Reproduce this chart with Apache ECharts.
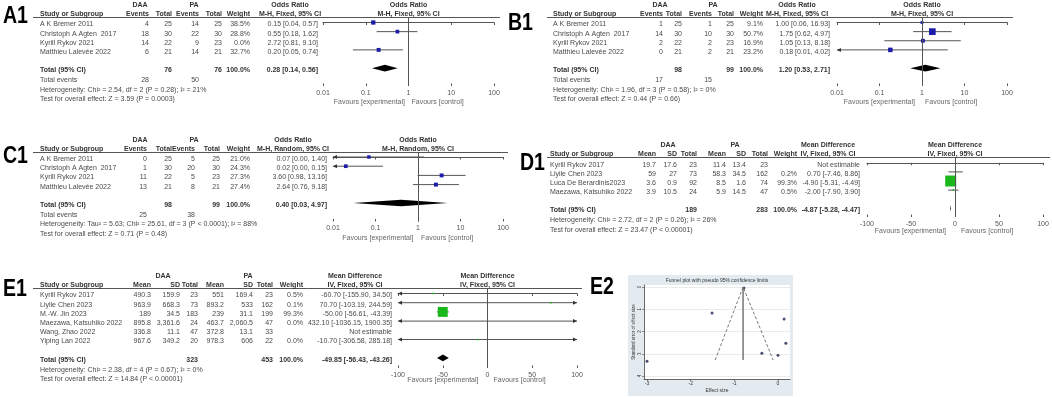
<!DOCTYPE html>
<html>
<head>
<meta charset="utf-8">
<script src="https://cdn.jsdelivr.net/npm/echarts@6/dist/echarts.min.js"></script>
<style>
  html, body { margin: 0; padding: 0; background: #fff; }
  #main { width: 1052px; height: 397px; }
</style>
</head>
<body>
<div id="main"></div>
<script>
// ---------- A1: odds ratio, M-H fixed ----------
const aStudies = ['A K Bremer 2011', 'Christoph A Agten  2017', 'Kyrill Rykov 2021', 'Matthieu Lalevée 2022'];
const aDaaEvents = [4, 18, 14, 6];
const aDaaTotal = [25, 30, 22, 21];
const aPaEvents = [14, 22, 9, 14];
const aPaTotal = [25, 30, 23, 21];
const aWeight = [38.5, 28.8, 0.0, 32.7];
const aOR = [0.15, 0.55, 2.72, 0.20];
const aLower = [0.04, 0.18, 0.81, 0.05];
const aUpper = [0.57, 1.62, 9.10, 0.74];
const aDrawn = [true, true, false, true];
const aTotal = [76, 76];
const aTotalEvents = [28, 50];
const aPooled = [0.28, 0.14, 0.56];
const aNotes = ['Heterogeneity: Chi² = 2.54, df = 2 (P = 0.28); I² = 21%', 'Test for overall effect: Z = 3.59 (P = 0.0003)'];

// ---------- B1 ----------
const bStudies = ['A K Bremer 2011', 'Christoph A Agten  2017', 'Kyrill Rykov 2021', 'Matthieu Lalevée 2022'];
const bDaaEvents = [1, 14, 2, 0];
const bDaaTotal = [25, 30, 22, 21];
const bPaEvents = [1, 10, 2, 2];
const bPaTotal = [25, 30, 23, 21];
const bWeight = [9.1, 50.7, 16.9, 23.2];
const bOR = [1.00, 1.75, 1.05, 0.18];
const bLower = [0.06, 0.62, 0.13, 0.01];
const bUpper = [16.93, 4.97, 8.18, 4.02];
const bTotal = [98, 99];
const bTotalEvents = [17, 15];
const bPooled = [1.20, 0.53, 2.71];
const bNotes = ['Heterogeneity: Chi² = 1.96, df = 3 (P = 0.58); I² = 0%', 'Test for overall effect: Z = 0.44 (P = 0.66)'];

// ---------- C1: odds ratio, M-H random ----------
const cStudies = ['A K Bremer 2011', 'Christoph A Agten  2017', 'Kyrill Rykov 2021', 'Matthieu Lalevée 2022'];
const cDaaEvents = [0, 1, 11, 13];
const cDaaTotal = [25, 30, 22, 21];
const cPaEvents = [5, 20, 5, 8];
const cPaTotal = [25, 30, 23, 21];
const cWeight = [21.0, 24.3, 27.3, 27.4];
const cOR = [0.07, 0.02, 3.60, 2.64];
const cLower = [0.00, 0.00, 0.98, 0.76];
const cUpper = [1.40, 0.15, 13.16, 9.18];
const cTotal = [98, 99];
const cTotalEvents = [25, 38];
const cPooled = [0.40, 0.03, 4.97];
const cNotes = ['Heterogeneity: Tau² = 5.63; Chi² = 25.61, df = 3 (P < 0.0001); I² = 88%', 'Test for overall effect: Z = 0.71 (P = 0.48)'];

// ---------- D1: mean difference ----------
const dStudies = ['Kyrill Rykov 2017', 'Liyile Chen 2023', 'Luca De Berardinis2023', 'Maezawa, Katsuhiko 2022'];
const dDaaMean = [19.7, 59, 3.6, 3.9];
const dDaaSd = [17.6, 27, 0.9, 10.5];
const dDaaTotal = [23, 73, 92, 24];
const dPaMean = [11.4, 58.3, 8.5, 5.9];
const dPaSd = [13.4, 34.5, 1.6, 14.5];
const dPaTotal = [23, 162, 74, 47];
const dWeight = [null, 0.2, 99.3, 0.5];
const dMD = [null, 0.70, -4.90, -2.00];
const dLower = [null, -7.46, -5.31, -7.90];
const dUpper = [null, 8.86, -4.49, 3.90];
const dTotal = [189, 283];
const dPooled = [-4.87, -5.28, -4.47];
const dNotes = ['Heterogeneity: Chi² = 2.72, df = 2 (P = 0.26); I² = 26%', 'Test for overall effect: Z = 23.47 (P < 0.00001)'];

// ---------- E1: mean difference ----------
const eStudies = ['Kyrill Rykov 2017', 'Liyile Chen 2023', 'M.-W. Jin 2023', 'Maezawa, Katsuhiko 2022', 'Wang, Zhao 2022', 'Yiping Lan 2022'];
const eDaaMean = [490.3, 963.9, 189, 895.8, 336.8, 967.6];
const eDaaSd = [159.9, 668.3, 34.5, 3361.6, 11.1, 349.2];
const eDaaTotal = [23, 73, 183, 24, 47, 20];
const ePaMean = [551, 893.2, 239, 463.7, 372.8, 978.3];
const ePaSd = [169.4, 533, 31.1, 2060.5, 13.1, 606];
const ePaTotal = [23, 162, 199, 47, 33, 22];
const eWeight = [0.5, 0.1, 99.3, 0.0, null, 0.0];
const eMD = [-60.70, 70.70, -50.00, 432.10, null, -10.70];
const eLower = [-155.90, -103.19, -56.61, -1036.15, null, -306.58];
const eUpper = [34.50, 244.59, -43.39, 1900.35, null, 285.18];
const eTotal = [323, 453];
const ePooled = [-49.85, -56.43, -43.26];
const eNotes = ['Heterogeneity: Chi² = 2.38, df = 4 (P = 0.67); I² = 0%', 'Test for overall effect: Z = 14.84 (P < 0.00001)'];

// ---------- E2: funnel plot ----------
const funnelEffect = [-0.78, -1.51, 0.14, 0.18, -0.37, 0.00, -3.00];
const funnelSE = [0.05, 1.17, 1.44, 2.52, 2.97, 3.06, 3.33];
const funnelEdgeX = [-1.44, -0.80, -0.11];
const funnelEdgeY = [3.28, 0, 3.28];
const funnelCentre = -0.80;
const funnelTicksX = [-3, -2, -1, 0];
const funnelTicksY = [0, 1, 2, 3, 4];

const FONT = '"Liberation Sans", Arial, sans-serif';
const GREY = '#4a4a4a';
const BLUE = '#1c1ca8';
const GREEN = '#1ab81a';

const orCols = ['Events', 'Total', 'Events', 'Total'];
const mdCols = ['Mean', 'SD', 'Total', 'Mean', 'SD', 'Total'];

const panels = [
  {
    tag: 'A1', tagPos: [3, 16.5], log: true, range: [0.01, 100], ref: 1,
    studies: aStudies, cols: [aDaaEvents, aDaaTotal, aPaEvents, aPaTotal], colNames: orCols, totalCols: [1, 3],
    weight: aWeight, est: aOR, lo: aLower, hi: aUpper, drawn: aDrawn,
    totals: aTotal, events: aTotalEvents, pooled: aPooled, notes: aNotes,
    effect: 'Odds Ratio', method: 'M-H, Fixed, 95% CI', color: BLUE,
    L: { line: [33, 500], top: 17, plotX: 323, plotW: 171, axisY: 86, row0: 22.5, rowH: 9.13, totalRow: 5,
         studyX: 40, colX: [149, 172, 199, 222], weightX: 250, ciX: 318, daaX: 140, paX: 194, effX: 290,
         favY: 102, favGap: [3.5, 3], box: [0.69, 2.5] }
  },
  {
    tag: 'B1', tagPos: [508, 23.5], log: true, range: [0.01, 100], ref: 1,
    studies: bStudies, cols: [bDaaEvents, bDaaTotal, bPaEvents, bPaTotal], colNames: orCols, totalCols: [1, 3],
    weight: bWeight, est: bOR, lo: bLower, hi: bUpper,
    totals: bTotal, events: bTotalEvents, pooled: bPooled, notes: bNotes,
    effect: 'Odds Ratio', method: 'M-H, Fixed, 95% CI', color: BLUE,
    L: { line: [547, 1013], top: 17, plotX: 837, plotW: 170, axisY: 86, row0: 22.5, rowH: 9.13, totalRow: 5,
         studyX: 553, colX: [663, 682, 712, 734], weightX: 763, ciX: 830, daaX: 660, paX: 713, effX: 797,
         favY: 102, favGap: [7, 3], box: [0.94, 2.5] }
  },
  {
    tag: 'C1', tagPos: [3, 157], log: true, range: [0.01, 100], ref: 1,
    studies: cStudies, cols: [cDaaEvents, cDaaTotal, cPaEvents, cPaTotal], colNames: orCols, totalCols: [1, 3],
    weight: cWeight, est: cOR, lo: cLower, hi: cUpper,
    totals: cTotal, events: cTotalEvents, pooled: cPooled, notes: cNotes,
    effect: 'Odds Ratio', method: 'M-H, Random, 95% CI', color: BLUE,
    L: { line: [33, 508], top: 152, plotX: 333, plotW: 170, axisY: 221.5, row0: 157, rowH: 9.2, totalRow: 5,
         studyX: 40, colX: [147, 172, 195, 220], weightX: 250, ciX: 327, daaX: 140, paX: 194, effX: 293,
         favY: 238, favGap: [4.5, 3], box: [0.75, 2.5] }
  },
  {
    tag: 'D1', tagPos: [520, 163.5], log: false, range: [-100, 100], ref: 0,
    studies: dStudies, cols: [dDaaMean, dDaaSd, dDaaTotal, dPaMean, dPaSd, dPaTotal], colNames: mdCols, totalCols: [2, 5],
    weight: dWeight, est: dMD, lo: dLower, hi: dUpper,
    totals: dTotal, events: null, pooled: dPooled, notes: dNotes,
    effect: 'Mean Difference', method: 'IV, Fixed, 95% CI', color: GREEN,
    L: { line: [547, 1050], top: 157, plotX: 867, plotW: 176, axisY: 217, row0: 162.8, rowH: 9.1, totalRow: 5,
         studyX: 550, colX: [656, 677, 697, 726, 746, 768], weightX: 797, ciX: 860, daaX: 668, paX: 735, effX: 828,
         favY: 231, favGap: [9, 6], box: [1.1, 1.5] }
  },
  {
    tag: 'E1', tagPos: [3, 289.5], log: false, range: [-100, 100], ref: 0,
    studies: eStudies, cols: [eDaaMean, eDaaSd, eDaaTotal, ePaMean, ePaSd, ePaTotal], colNames: mdCols, totalCols: [2, 5],
    weight: eWeight, est: eMD, lo: eLower, hi: eUpper,
    totals: eTotal, events: null, pooled: ePooled, notes: eNotes,
    effect: 'Mean Difference', method: 'IV, Fixed, 95% CI', color: GREEN,
    L: { line: [33, 582], top: 288, plotX: 398, plotW: 179, axisY: 368, row0: 293.5, rowH: 9.2, totalRow: 7,
         studyX: 40, colX: [151, 180, 198, 224, 253, 273], weightX: 303, ciX: 392, daaX: 163, paX: 248, effX: 355,
         favY: 380, favGap: [9, 6], box: [1.0, 1.5] }
  }
];

function fmtNum(v) {
  return v.toLocaleString('en-US', { maximumFractionDigits: 2 });
}
function fmtCI(e, l, u) {
  return e == null ? 'Not estimable' : e.toFixed(2) + ' [' + l.toFixed(2) + ', ' + u.toFixed(2) + ']';
}

function studyItem(p) {
  return function (params, api) {
    const i = api.value(0), est = api.value(1), lo = api.value(2), hi = api.value(3), w = api.value(4);
    const mn = p.range[0], mx = p.range[1];
    const y = api.coord([p.ref, i])[1];
    const x0 = api.coord([Math.max(lo, mn), i])[0];
    const x1 = api.coord([Math.min(hi, mx), i])[0];
    const kids = [{ type: 'line', shape: { x1: x0, y1: y, x2: x1, y2: y }, style: { stroke: '#555', lineWidth: 1 } }];
    if (lo <= mn) kids.push({ type: 'polygon', shape: { points: [[x0, y], [x0 + 4, y - 2], [x0 + 4, y + 2]] }, style: { fill: '#333' } });
    if (hi >= mx) kids.push({ type: 'polygon', shape: { points: [[x1, y], [x1 - 4, y - 2], [x1 - 4, y + 2]] }, style: { fill: '#333' } });
    if (est > mn && est < mx) {
      const s = Math.max(p.L.box[1], p.L.box[0] * Math.sqrt(w));
      const c = api.coord([est, i]);
      kids.push({ type: 'rect', shape: { x: c[0] - s / 2, y: c[1] - s / 2, width: s, height: s }, style: { fill: p.color } });
    }
    return { type: 'group', children: kids };
  };
}

function diamondItem(p) {
  return function (params, api) {
    const r = api.value(0);
    const c = api.coord([api.value(1), r]);
    const l = api.coord([api.value(2), r]);
    const u = api.coord([api.value(3), r]);
    const h = 3.3;
    return {
      type: 'polygon',
      shape: { points: [[l[0], c[1]], [c[0], c[1] - h], [u[0], c[1]], [c[0], c[1] + h]] },
      style: { fill: '#000' }
    };
  };
}

const chart = echarts.init(document.getElementById('main'));
const option = { animation: false, grid: [], xAxis: [], yAxis: [], series: [] };

panels.forEach(function (p, k) {
  const L = p.L;
  const h = L.axisY - L.top;
  const yMin = -(L.row0 - L.top) / L.rowH;
  option.grid.push({ left: L.plotX, top: L.top, width: L.plotW, height: h });
  const base = { gridIndex: k, position: 'bottom', type: p.log ? 'log' : 'value', min: p.range[0], max: p.range[1], splitLine: { show: false } };
  if (p.log) base.logBase = 10; else base.interval = 50;
  option.xAxis.push(Object.assign({}, base, {
    axisLine: { lineStyle: { color: '#555', width: 1 } },
    axisTick: { length: 2.5, lineStyle: { color: '#555' } },
    axisLabel: { fontSize: 7, fontFamily: FONT, color: '#555', margin: 3.5, formatter: function (v) { return String(+(+v).toPrecision(3)); } }
  }));
  option.xAxis.push(Object.assign({}, base, {
    axisLine: { show: false },
    axisTick: { inside: true, length: 2.5, lineStyle: { color: '#555' } },
    axisLabel: { show: false }
  }));
  option.yAxis.push({ gridIndex: k, type: 'value', inverse: true, min: yMin, max: yMin + h / L.rowH, show: false });

  const rows = [];
  p.studies.forEach(function (s, i) {
    if (p.est[i] == null || (p.drawn && !p.drawn[i])) return;
    rows.push([i, p.est[i], p.lo[i], p.hi[i], p.weight[i]]);
  });
  option.series.push({
    type: 'custom', xAxisIndex: 2 * k, yAxisIndex: k, silent: true,
    renderItem: studyItem(p), data: rows,
    markLine: { silent: true, symbol: 'none', label: { show: false }, lineStyle: { color: '#555', width: 1, type: 'solid' }, data: [{ xAxis: p.ref }] }
  });
  option.series.push({
    type: 'custom', xAxisIndex: 2 * k, yAxisIndex: k, silent: true,
    renderItem: diamondItem(p), data: [[L.totalRow, p.pooled[0], p.pooled[1], p.pooled[2]]]
  });
});

// funnel plot grid
const fg = panels.length;
option.grid.push({ left: 644, top: 285, width: 146, height: 94 });
option.xAxis.push({
  gridIndex: fg, type: 'value', min: -3.07, max: 0.275,
  name: 'Effect size', nameLocation: 'middle', nameGap: 9, nameTextStyle: { fontSize: 5, fontFamily: FONT, color: '#333' },
  axisLine: { onZero: false, lineStyle: { color: '#444', width: 0.8 } },
  axisTick: { customValues: funnelTicksX, length: 2, lineStyle: { color: '#444', width: 0.6 } },
  axisLabel: { customValues: funnelTicksX, fontSize: 5, fontFamily: FONT, color: '#333', margin: 2 },
  splitLine: { show: false }
});
option.xAxis.push({ gridIndex: fg, type: 'value', show: false, min: -3.07, max: 0.275 });
option.yAxis.push({
  gridIndex: fg, type: 'value', inverse: true, min: -0.09, max: 4.13,
  name: 'Standard error of effect size', nameLocation: 'middle', nameGap: 8, nameTextStyle: { fontSize: 4.5, fontFamily: FONT, color: '#333' },
  axisLine: { show: true, onZero: false, lineStyle: { color: '#444', width: 0.8 } },
  axisTick: { show: true, customValues: funnelTicksY, length: 2, lineStyle: { color: '#444', width: 0.6 } },
  axisLabel: { customValues: funnelTicksY, rotate: 90, fontSize: 4.5, fontFamily: FONT, color: '#333', margin: 2 },
  splitLine: { show: true, lineStyle: { color: '#e6e6e6', width: 0.8 } }
});
option.series.push({
  type: 'line', xAxisIndex: 2 * fg, yAxisIndex: fg, symbol: 'none', silent: true,
  data: funnelEdgeX.map(function (x, i) { return [x, funnelEdgeY[i]]; }),
  lineStyle: { color: '#555', width: 0.8, type: [3, 2] }
});
option.series.push({
  type: 'line', xAxisIndex: 2 * fg, yAxisIndex: fg, symbol: 'none', silent: true,
  data: [[funnelCentre, 0], [funnelCentre, Math.max.apply(null, funnelEdgeY)]],
  lineStyle: { color: '#777', width: 1.5 }
});
option.series.push({
  type: 'scatter', xAxisIndex: 2 * fg, yAxisIndex: fg, silent: true, symbolSize: 3,
  itemStyle: { color: '#1b2450' },
  data: funnelEffect.map(function (x, i) { return [x, funnelSE[i]]; })
});

chart.setOption(option);

// ---------- text tables, headers, labels ----------
const els = [
  { type: 'rect', z: -10, shape: { x: 628, y: 275, width: 165, height: 121 }, style: { fill: '#e3ebf0' } },
  { type: 'rect', z: -9, shape: { x: 644, y: 285, width: 146, height: 94 }, style: { fill: '#fff' } }
];
function txt(x, y, s, align, opts) {
  opts = opts || {};
  els.push({
    type: 'text', x: x, y: y, silent: true, z: 10,
    style: {
      text: s, textAlign: align || 'left', textVerticalAlign: 'middle',
      font: (opts.bold ? 'bold ' : '') + (opts.size || 7) + 'px ' + FONT,
      fill: opts.color || GREY
    }
  });
}

panels.forEach(function (p, k) {
  const L = p.L;
  els.push({
    type: 'text', x: p.tagPos[0], y: p.tagPos[1], scaleX: 0.85, z: 10, silent: true,
    style: { text: p.tag, textAlign: 'left', textVerticalAlign: 'middle', font: 'bold 23px ' + FONT, fill: '#000' }
  });
  const lineY = Math.round(L.top) + 0.5;
  els.push({ type: 'line', shape: { x1: L.line[0], y1: lineY, x2: L.line[1], y2: lineY }, style: { stroke: '#555', lineWidth: 1 }, z: 5 });
  const refX = chart.convertToPixel({ xAxisIndex: 2 * k }, p.ref);
  const h1 = L.top - 12, h2 = L.top - 3;
  const nc = p.colNames.length;
  // group headers
  txt(L.daaX, h1, 'DAA', 'center', { bold: true, color: '#333' });
  txt(L.paX, h1, 'PA', 'center', { bold: true, color: '#333' });
  txt(L.effX, h1, p.effect, 'center', { bold: true, color: '#333' });
  txt(refX, h1, p.effect, 'center', { bold: true, color: '#333' });
  txt(L.studyX, h2, 'Study or Subgroup', 'left', { bold: true, color: '#333' });
  p.colNames.forEach(function (c, j) { txt(L.colX[j], h2, c, 'right', { bold: true, color: '#333' }); });
  txt(L.weightX, h2, 'Weight', 'right', { bold: true, color: '#333' });
  txt(L.effX, h2, p.method, 'center', { bold: true, color: '#333' });
  txt(refX, h2, p.method, 'center', { bold: true, color: '#333' });
  // study rows
  p.studies.forEach(function (s, i) {
    const y = chart.convertToPixel({ yAxisIndex: k }, i) + 2;
    txt(L.studyX, y, s);
    for (let j = 0; j < nc; j++) txt(L.colX[j], y, fmtNum(p.cols[j][i]), 'right');
    if (p.weight[i] != null) txt(L.weightX, y, p.weight[i].toFixed(1) + '%', 'right');
    txt(L.ciX, y, fmtCI(p.est[i], p.lo[i], p.hi[i]), 'right');
  });
  // total rows
  const ty = chart.convertToPixel({ yAxisIndex: k }, L.totalRow) + 2;
  txt(L.studyX, ty, 'Total (95% CI)', 'left', { bold: true, color: '#333' });
  txt(L.colX[p.totalCols[0]], ty, String(p.totals[0]), 'right', { bold: true, color: '#333' });
  txt(L.colX[p.totalCols[1]], ty, String(p.totals[1]), 'right', { bold: true, color: '#333' });
  txt(L.weightX, ty, '100.0%', 'right', { bold: true, color: '#333' });
  txt(L.ciX, ty, fmtCI(p.pooled[0], p.pooled[1], p.pooled[2]), 'right', { bold: true, color: '#333' });
  let fy = ty + 10;
  if (p.events) {
    txt(L.studyX, fy, 'Total events');
    txt(L.colX[0], fy, String(p.events[0]), 'right');
    txt(L.colX[2], fy, String(p.events[1]), 'right');
    fy += 9.5;
  }
  txt(L.studyX, fy, p.notes[0]);
  txt(L.studyX, fy + 9.5, p.notes[1]);
  // favours
  txt(refX - L.favGap[0], L.favY, 'Favours [experimental]', 'right', { color: '#666' });
  txt(refX + L.favGap[1], L.favY, 'Favours [control]', 'left', { color: '#666' });
});

els.push({
  type: 'text', x: 590, y: 288, scaleX: 0.85, z: 10, silent: true,
  style: { text: 'E2', textAlign: 'left', textVerticalAlign: 'middle', font: 'bold 23px ' + FONT, fill: '#000' }
});
txt(717, 281, 'Funnel plot with pseudo 95% confidence limits', 'center', { size: 5, color: '#333' });

chart.setOption({ graphic: { elements: els } });
</script>
</body>
</html>
